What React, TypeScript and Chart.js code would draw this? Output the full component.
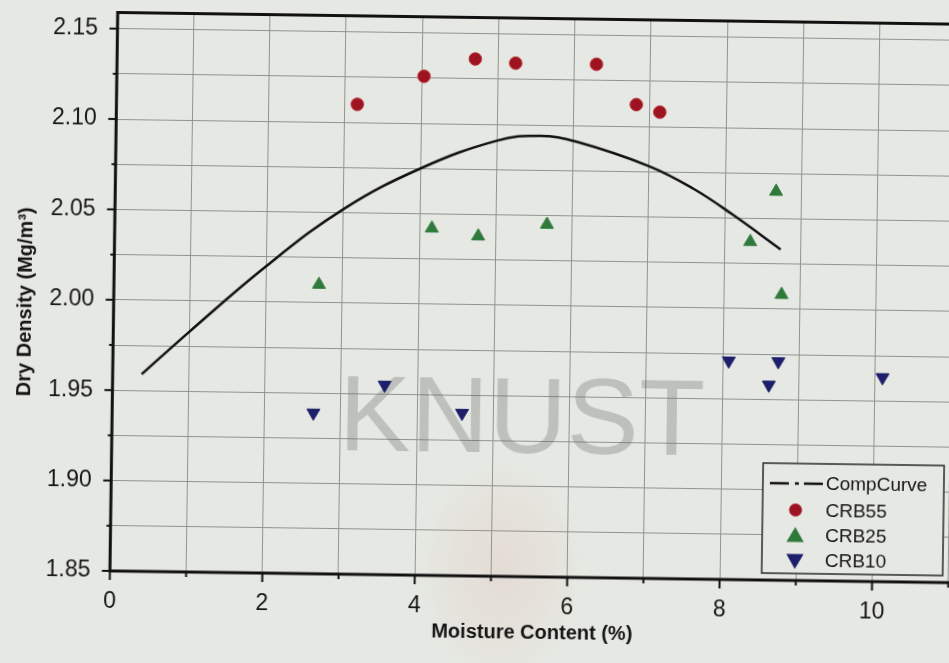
import { useEffect, useRef } from "react";
import { Chart, registerables } from "chart.js";

Chart.register(...registerables);

// Compaction curve (moisture %, dry density Mg/m3)
const curveMoisture = [0.38, 1.0, 2.0, 3.0, 4.0, 5.0, 5.56, 6.04, 7.0, 7.58, 8.1, 8.74];
const curveDensity = [1.959, 1.983, 2.02, 2.052, 2.075, 2.091, 2.094, 2.091, 2.078, 2.066, 2.052, 2.033];

const crb55Moisture = [3.16, 4.03, 4.7, 5.23, 6.29, 6.82, 7.13];
const crb55Density = [2.11, 2.126, 2.136, 2.134, 2.134, 2.112, 2.108];

const crb25Moisture = [2.69, 4.16, 4.77, 5.67, 8.34, 8.67, 8.76];
const crb25Density = [2.01, 2.042, 2.038, 2.045, 2.037, 2.065, 2.008];

const crb10Moisture = [2.64, 3.57, 4.59, 8.08, 8.61, 8.73, 10.1];
const crb10Density = [1.939, 1.955, 1.94, 1.971, 1.958, 1.971, 1.963];

const xTickLabels = [0, 2, 4, 6, 8, 10];
const yTickLabels = [1.85, 1.9, 1.95, 2.0, 2.05, 2.1, 2.15];

const seriesNames = ["CompCurve", "CRB55", "CRB25", "CRB10"];

const PAPER = "#e6e9e3";
const GRID = "#8f948e";
const INK = "#151515";
const RED = "#9e1320";
const GREEN = "#2f7a3a";
const BLUE = "#1d1f6b";
const FONT = '"Liberation Sans", Arial, sans-serif';

const pts = (xs: number[], ys: number[]) => xs.map((x, i) => ({ x, y: ys[i] }));

function marker(ctx: CanvasRenderingContext2D, kind: string, x: number, y: number, r: number) {
  ctx.beginPath();
  if (kind === "circle") {
    ctx.arc(x, y, r, 0, Math.PI * 2);
  } else {
    const s = kind === "up" ? -1 : 1;
    ctx.moveTo(x, y + s * r);
    ctx.lineTo(x + r * 0.866, y - s * r * 0.5);
    ctx.lineTo(x - r * 0.866, y - s * r * 0.5);
    ctx.closePath();
  }
  ctx.fill();
}

const decor = {
  id: "decor",
  beforeDatasetsDraw(chart: any) {
    const { ctx } = chart;
    ctx.save();
    // faint emblem below the watermark lettering
    ctx.translate(505, 570);
    ctx.scale(0.75, 1);
    const g = ctx.createRadialGradient(0, 0, 10, 0, 0, 110);
    g.addColorStop(0, "rgba(215,125,110,0.11)");
    g.addColorStop(0.6, "rgba(215,125,110,0.06)");
    g.addColorStop(1, "rgba(215,125,110,0)");
    ctx.fillStyle = g;
    ctx.beginPath();
    ctx.arc(0, 0, 110, 0, Math.PI * 2);
    ctx.fill();
    ctx.restore();
    ctx.save();
    ctx.font = `108px ${FONT}`;
    ctx.fillStyle = "rgba(100,100,95,0.3)";
    ctx.textAlign = "center";
    ctx.textBaseline = "alphabetic";
    ctx.fillText("KNUST", 523, 452);
    ctx.restore();
  },
  afterDraw(chart: any) {
    const { ctx, chartArea: a, scales } = chart;
    ctx.save();
    // frame
    ctx.strokeStyle = "#111";
    ctx.lineWidth = 3;
    ctx.beginPath();
    ctx.moveTo(a.right, a.top);
    ctx.lineTo(a.left, a.top);
    ctx.lineTo(a.left, a.bottom);
    ctx.lineTo(a.right, a.bottom);
    ctx.stroke();
    // tick marks
    ctx.lineWidth = 2;
    const ys = scales.y;
    ys.ticks.forEach((t: any) => {
      const major = yTickLabels.some((v) => Math.abs(v - t.value) < 1e-6);
      const py = ys.getPixelForValue(t.value);
      ctx.beginPath();
      ctx.moveTo(a.left - (major ? 8 : 4), py);
      ctx.lineTo(a.left, py);
      ctx.stroke();
    });
    const xs = scales.x;
    xs.ticks.forEach((t: any) => {
      const major = xTickLabels.includes(t.value);
      const px = xs.getPixelForValue(t.value);
      ctx.beginPath();
      ctx.moveTo(px, a.bottom);
      ctx.lineTo(px, a.bottom + (major ? 9 : 5));
      ctx.stroke();
    });
    // axis titles
    ctx.fillStyle = INK;
    ctx.font = `bold 20px ${FONT}`;
    ctx.textAlign = "center";
    ctx.textBaseline = "middle";
    ctx.fillText("Moisture Content (%)", 536, 632);
    ctx.save();
    ctx.translate(25, 308);
    ctx.rotate(-Math.PI / 2);
    ctx.fillText("Dry Density (Mg/m\u00B3)", 0, 0);
    ctx.restore();
    // legend
    const bx = 765, by = 459, bw = 181, bh = 110;
    ctx.fillStyle = PAPER;
    ctx.fillRect(bx, by, bw, bh);
    ctx.strokeStyle = "#2a2a2a";
    ctx.lineWidth = 1.5;
    ctx.strokeRect(bx, by, bw, bh);
    const rows = [479, 505.5, 531, 556];
    const sx = 798;
    // line sample: dash-dot
    ctx.strokeStyle = "#111";
    ctx.lineWidth = 2.5;
    ctx.beginPath();
    ctx.moveTo(772, rows[0]);
    ctx.lineTo(791, rows[0]);
    ctx.moveTo(797, rows[0]);
    ctx.lineTo(801, rows[0]);
    ctx.moveTo(806, rows[0]);
    ctx.lineTo(825, rows[0]);
    ctx.stroke();
    ctx.fillStyle = RED;
    marker(ctx, "circle", sx, rows[1], 6.5);
    ctx.fillStyle = GREEN;
    marker(ctx, "up", sx, rows[2] + 1.5, 10);
    ctx.fillStyle = BLUE;
    marker(ctx, "down", sx, rows[3] - 1.5, 10);
    ctx.fillStyle = INK;
    ctx.font = `19px ${FONT}`;
    ctx.textAlign = "left";
    ctx.textBaseline = "middle";
    seriesNames.forEach((n, i) => ctx.fillText(n, 828, rows[i] + 1));
    ctx.restore();
  },
};

export default function App() {
  const ref = useRef<HTMLCanvasElement>(null);

  useEffect(() => {
    const canvas = ref.current;
    if (!canvas) return;
    const chart = new Chart(canvas, {
      type: "scatter",
      data: {
        datasets: [
          {
            label: seriesNames[0],
            data: pts(curveMoisture, curveDensity),
            showLine: true,
            borderColor: "#111",
            borderWidth: 2.5,
            pointRadius: 0,
            tension: 0.4,
          },
          {
            label: seriesNames[1],
            data: pts(crb55Moisture, crb55Density),
            pointStyle: "circle",
            pointRadius: 6.3,
            backgroundColor: RED,
            borderColor: "#b8303c",
            borderWidth: 1,
          },
          {
            label: seriesNames[2],
            data: pts(crb25Moisture, crb25Density),
            pointStyle: "triangle",
            pointRadius: 7.5,
            backgroundColor: GREEN,
            borderColor: GREEN,
            borderWidth: 1,
          },
          {
            label: seriesNames[3],
            data: pts(crb10Moisture, crb10Density),
            pointStyle: "triangle",
            rotation: 180,
            pointRadius: 7.5,
            backgroundColor: BLUE,
            borderColor: BLUE,
            borderWidth: 1,
          },
        ],
      },
      options: {
        responsive: false,
        animation: false,
        layout: { padding: { top: 17.4, right: 25.4, left: 0, bottom: 0 } },
        plugins: { legend: { display: false }, tooltip: { enabled: false } },
        scales: {
          x: {
            type: "linear",
            min: 0,
            max: 11.3,
            afterFit: (s: any) => {
              s.height = 87;
              s.paddingLeft = 0;
              s.paddingRight = 0;
            },
            border: { display: false },
            grid: { color: GRID, lineWidth: 1, drawTicks: false },
            ticks: {
              stepSize: 1,
              includeBounds: false,
              autoSkip: false,
              maxRotation: 0,
              padding: 17,
              color: INK,
              font: { family: FONT, size: 23 },
              callback: (v: any) => (xTickLabels.includes(v) ? String(v) : ""),
            },
          },
          y: {
            type: "linear",
            min: 1.85,
            max: 2.159,
            afterFit: (s: any) => {
              s.width = 113.3;
              s.paddingTop = 0;
              s.paddingBottom = 0;
            },
            border: { display: false },
            grid: { color: GRID, lineWidth: 1, drawTicks: false },
            ticks: {
              stepSize: 0.025,
              includeBounds: false,
              autoSkip: false,
              padding: 19.5,
              color: INK,
              font: { family: FONT, size: 23 },
              callback: (v: any) => {
                const k = yTickLabels.find((t) => Math.abs(t - v) < 1e-6);
                return k !== undefined ? k.toFixed(2) : "";
              },
            },
          },
        },
      },
      plugins: [decor],
    } as any);
    return () => chart.destroy();
  }, []);

  return (
    <div
      style={{
        position: "fixed",
        left: 0,
        top: 0,
        width: 949,
        height: 663,
        overflow: "hidden",
        background: PAPER,
      }}
    >
      <canvas
        ref={ref}
        width={1000}
        height={663}
        style={{
          position: "absolute",
          left: 0,
          top: 0,
          width: 1000,
          height: 663,
          transform: "rotate(0.8deg)",
          transformOrigin: "474.5px 331.5px",
        }}
      />
    </div>
  );
}
